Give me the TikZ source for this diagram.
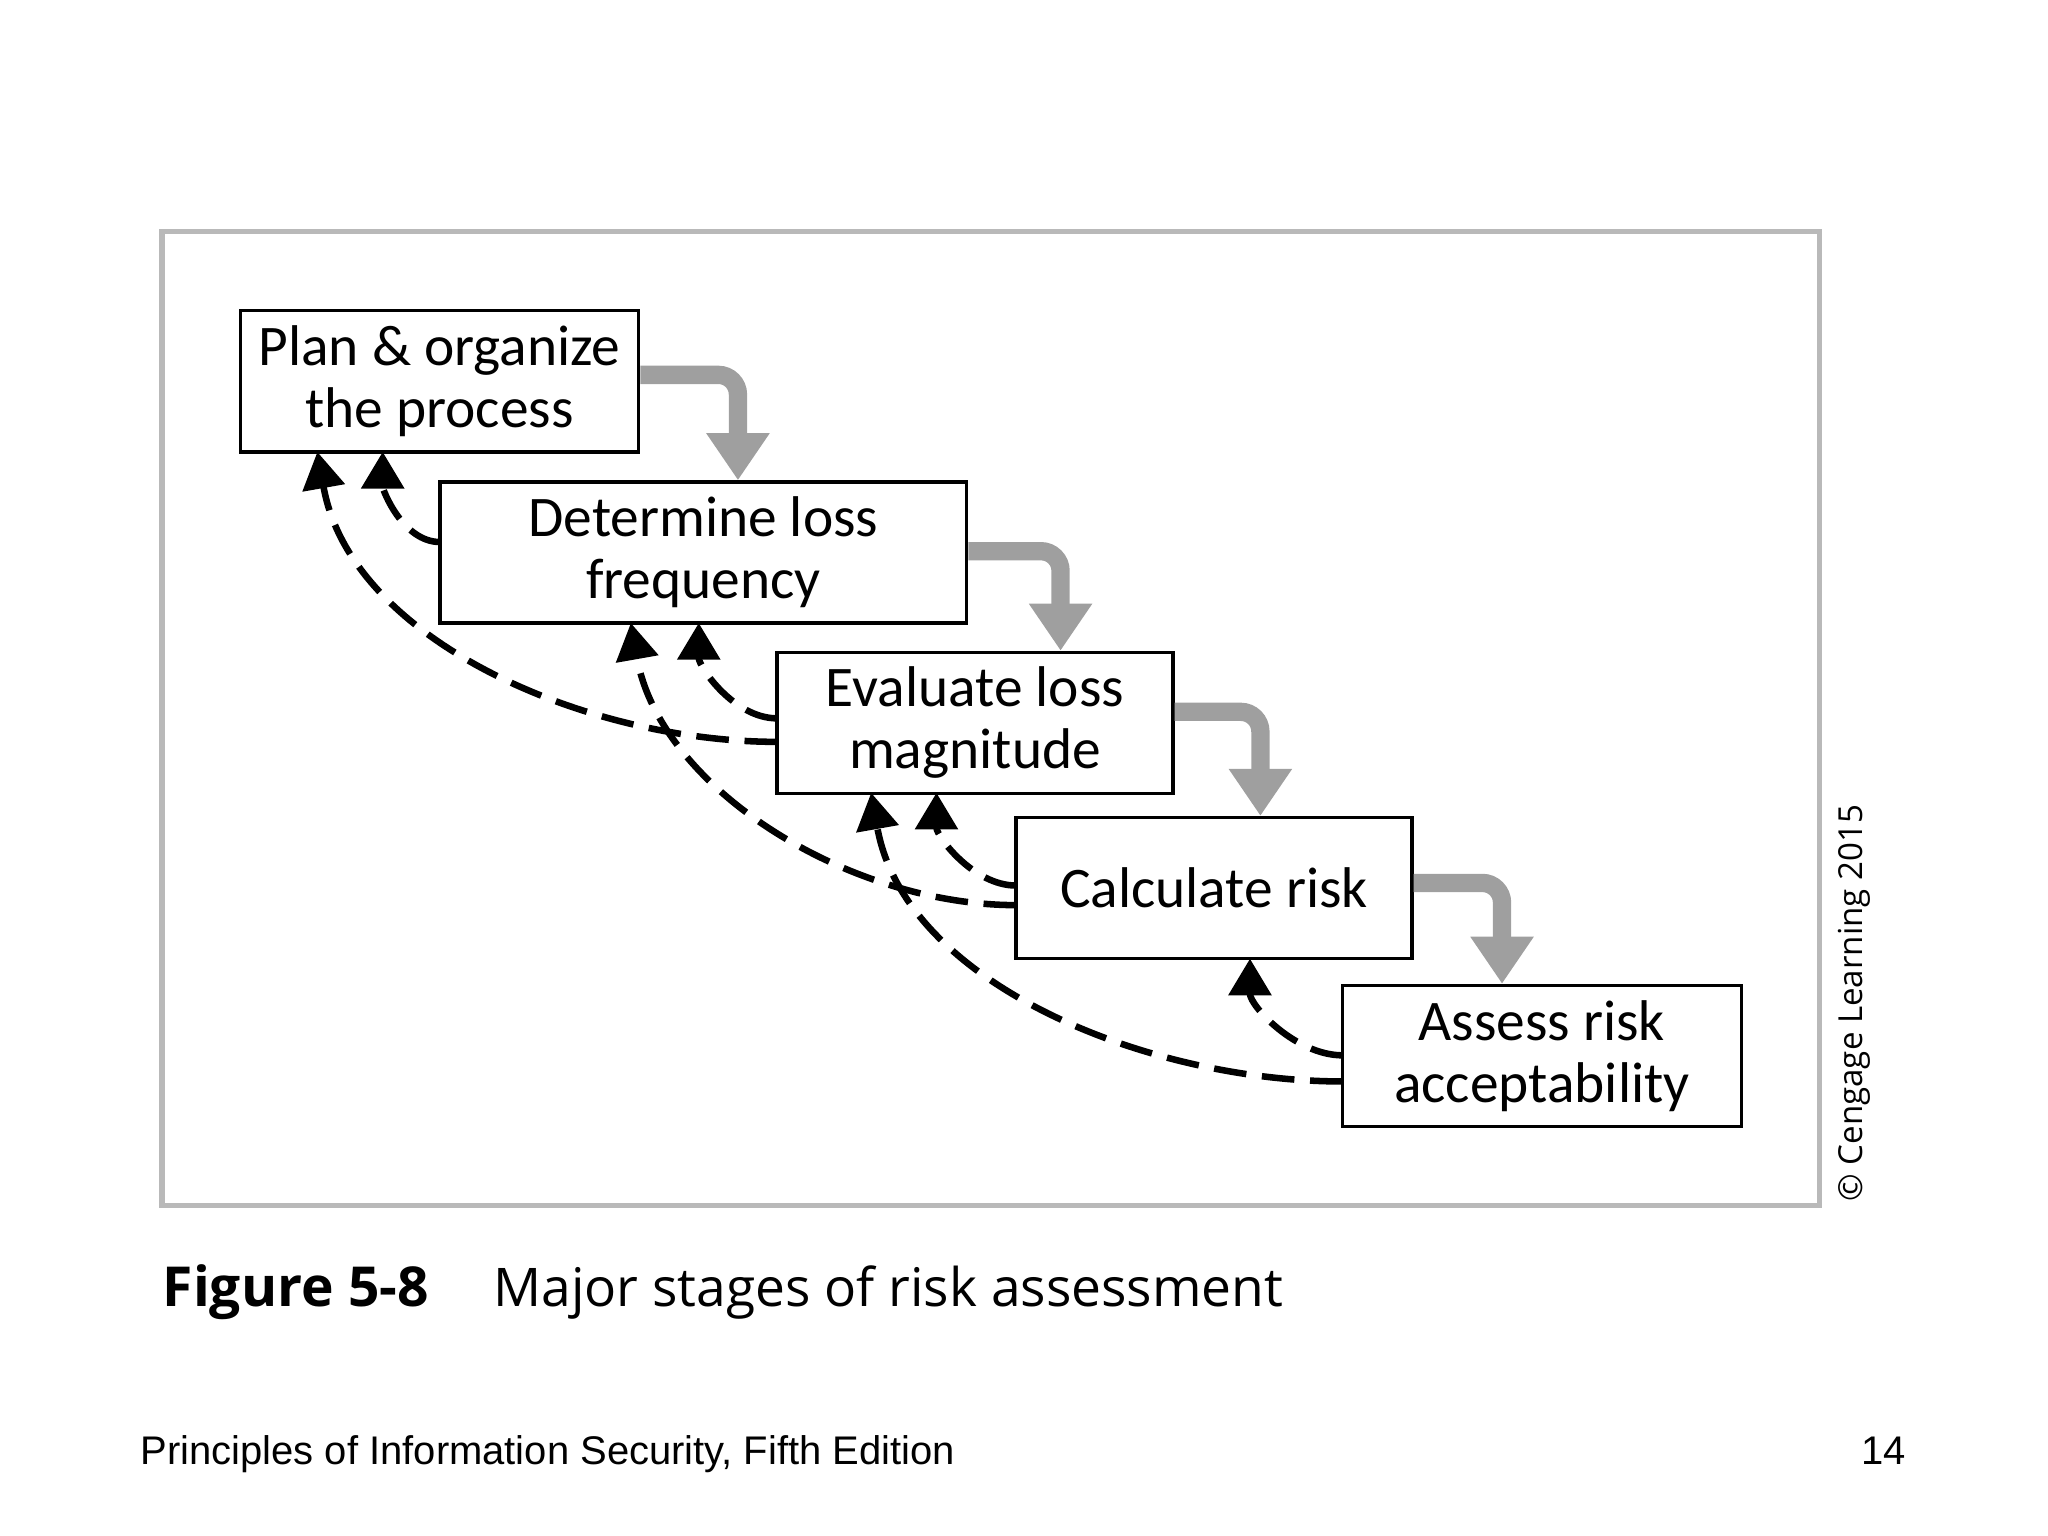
\documentclass[tikz,border=0pt]{standalone}
\usepackage{fontspec}
\setmainfont{Open Sans}
\newfontfamily\footfont{Liberation Sans}
\newfontfamily\boxfont{Carlito}
\usetikzlibrary{arrows.meta}
\begin{document}
\begin{tikzpicture}[x=0.01cm,y=-0.01cm,
  stage/.style={draw,line width=0.25mm,minimum width=3.05cm,minimum height=1.08cm,align=center,font=\boxfont\fontsize{12.5}{13.5}\selectfont,inner sep=0pt},
  flow/.style={draw=gray!75,line width=1.4mm,-{Triangle[length=3.6mm,width=4.6mm]}},
  back/.style={line width=0.5mm,dash pattern=on 2.5mm off 1.2mm,-{Triangle[length=2.8mm,width=3.2mm]}}]
\useasboundingbox (0,0) rectangle (1568,1176);
\draw[gray!55,line width=0.4mm] (124,177) rectangle (1393,923);
\node[stage] (b1) at (336.5,292) {Plan \& organize\\the process};
\node[stage,minimum width=4.03cm] (b2) at (538.5,423) {Determine loss\\frequency};
\node[stage,minimum width=3.03cm] (b3) at (746.5,553.5) {Evaluate loss\\magnitude};
\node[stage,minimum width=3.03cm] (b4) at (929.5,680) {Calculate risk};
\node[stage] (b5) at (1180.5,808.5) {Assess risk\\acceptability};
% gray flow
\coordinate (g1) at (565,287); \coordinate (g2) at (812,422);
\coordinate (g3) at (965,545); \coordinate (g4) at (1150,676);
\draw[flow,rounded corners=1.5mm] (b1.east|-g1) -- (g1) -- (g1|-b2.north);
\draw[flow,rounded corners=1.5mm] (b2.east|-g2) -- (g2) -- (g2|-b3.north);
\draw[flow,rounded corners=1.5mm] (b3.east|-g3) -- (g3) -- (g3|-b4.north);
\draw[flow,rounded corners=1.5mm] (b4.east|-g4) -- (g4) -- (g4|-b5.north);
% dashed back arrows
\coordinate (s2) at (337,415); \coordinate (t1a) at (293,346);
\coordinate (s3a) at (595,568); \coordinate (t1b) at (243,346);
\coordinate (s3b) at (595,550); \coordinate (t2a) at (535,477);
\coordinate (s4a) at (778,693); \coordinate (t2b) at (483,477);
\coordinate (s4b) at (778,678); \coordinate (t3a) at (717,607);
\coordinate (s5a) at (1028,828); \coordinate (t3b) at (667,607);
\coordinate (s5b) at (1028,808); \coordinate (t4) at (957,734);
\draw[back] (s2) to[out=180,in=-90,looseness=0.9] (t1a);
\draw[back] (s3a) to[out=180,in=-80,looseness=0.9] (t1b);
\draw[back] (s3b) to[out=180,in=-90,looseness=0.9] (t2a);
\draw[back] (s4a) to[out=180,in=-80,looseness=0.9] (t2b);
\draw[back] (s4b) to[out=180,in=-90,looseness=0.9] (t3a);
\draw[back] (s5a) to[out=180,in=-80,looseness=0.9] (t3b);
\draw[back] (s5b) to[out=180,in=-90,looseness=0.9] (t4);
% copyright
\node[rotate=90,font=\fontsize{7.2}{9}\selectfont,anchor=center] (cr) at (1420,768) {\textcopyright\ Cengage Learning 2015};
% caption
\node[anchor=base west,font=\fontsize{12}{14}\selectfont\bfseries,inner sep=0pt] (fig) at (124,1000) {Figure 5-8};
\node[anchor=base west,font=\fontsize{11.6}{14}\selectfont,inner sep=0pt] (cap) at (377,1000) {Major stages of risk assessment};
% footer
\node[anchor=base west,font=\footfont\fontsize{8.7}{11}\selectfont,inner sep=0pt] (foot) at (107,1121) {Principles of Information Security, Fifth Edition};
\node[anchor=base east,font=\footfont\fontsize{8.7}{11}\selectfont,inner sep=0pt] (pg) at (1460,1121) {14};
\end{tikzpicture}
\end{document}
